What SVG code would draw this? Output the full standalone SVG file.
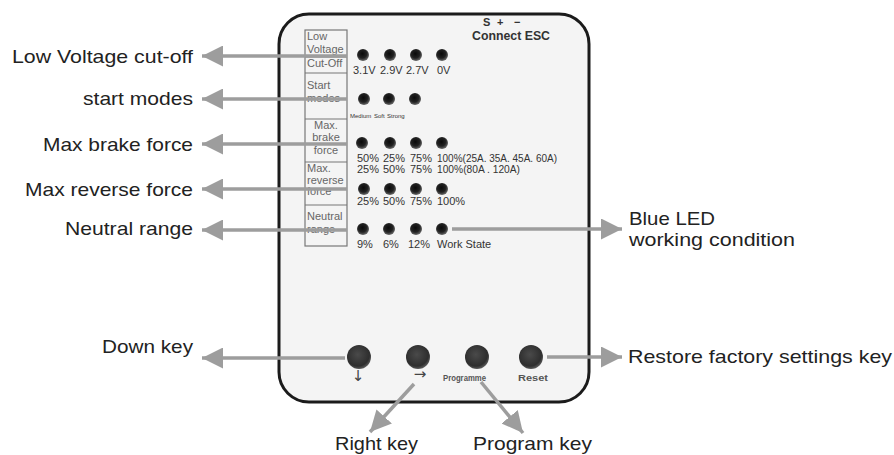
<svg xmlns="http://www.w3.org/2000/svg" width="894" height="455" viewBox="0 0 894 455">
<defs>
<marker id="ah" viewBox="0 0 20 20" refX="20" refY="10" markerWidth="21" markerHeight="21" markerUnits="userSpaceOnUse" orient="auto">
<path d="M0,0 L20,10 L0,20 z" fill="#9d9d9d"/>
</marker>
<radialGradient id="led" cx="0.45" cy="0.4" r="0.6">
<stop offset="0" stop-color="#0a0a0a"/>
<stop offset="0.6" stop-color="#222"/>
<stop offset="1" stop-color="#6a6a6a"/>
</radialGradient>
<radialGradient id="btn" cx="0.45" cy="0.4" r="0.6">
<stop offset="0" stop-color="#4a4a4a"/>
<stop offset="0.8" stop-color="#2e2e2e"/>
<stop offset="1" stop-color="#5a5a5a"/>
</radialGradient>
<style>
.lbl{font-family:"Liberation Sans",Arial,sans-serif;font-size:19px;fill:#222}
.box{font-family:"Liberation Sans",Arial,sans-serif;font-size:11px;fill:#666}
.val{font-family:"Liberation Sans",Arial,sans-serif;font-size:11px;fill:#333}
.tiny{font-family:"Liberation Sans",Arial,sans-serif;font-size:6px;fill:#333}
.key{font-family:"Liberation Sans",Arial,sans-serif;font-size:9px;fill:#555;font-weight:bold}
.hdr{font-family:"Liberation Sans",Arial,sans-serif;font-size:12px;fill:#333;font-weight:bold}
.sym{font-family:"Liberation Sans",Arial,sans-serif;font-size:11px;fill:#333;font-weight:bold}
.arr{font-family:"DejaVu Sans",sans-serif;font-size:15px;fill:#444}
.con{stroke:#9d9d9d;stroke-width:3.5;fill:none;marker-end:url(#ah)}
.bl{stroke:#777;stroke-width:1.2;fill:none}
</style>
</defs>
<rect width="894" height="455" fill="#fff"/>
<g id="board">
<rect x="279" y="14" width="310" height="388" rx="30" ry="30" fill="#f4f4f4" stroke="#1b1b1b" stroke-width="3"/>
<text class="sym" x="483" y="26">S</text>
<text class="sym" x="497" y="26">+</text>
<text class="sym" x="514" y="26">−</text>
<text class="hdr" x="472" y="40" textLength="78" lengthAdjust="spacingAndGlyphs">Connect ESC</text>
</g>
<g id="label-boxes">
<rect class="bl" x="305" y="30" width="42" height="216"/>
<line class="bl" x1="305" y1="57" x2="347" y2="57"/>
<line class="bl" x1="305" y1="73" x2="347" y2="73"/>
<line class="bl" x1="305" y1="119" x2="347" y2="119"/>
<line class="bl" x1="305" y1="162" x2="347" y2="162"/>
<line class="bl" x1="305" y1="205" x2="347" y2="205"/>
<text class="box" x="307" y="40">Low</text>
<text class="box" x="307" y="53">Voltage</text>
<text class="box" x="307" y="67">Cut-Off</text>
<text class="box" x="307" y="89">Start</text>
<text class="box" x="307" y="102">modes</text>
<text class="box" x="326" y="129" text-anchor="middle">Max.</text>
<text class="box" x="326" y="141" text-anchor="middle">brake</text>
<text class="box" x="326" y="154" text-anchor="middle">force</text>
<text class="box" x="307" y="172">Max.</text>
<text class="box" x="307" y="184">reverse</text>
<text class="box" x="307" y="195">force</text>
<text class="box" x="307" y="220">Neutral</text>
<text class="box" x="307" y="233">range</text>
</g>
<g id="row-voltage">
<circle cx="363" cy="55" r="6" fill="url(#led)"/>
<circle cx="390" cy="55" r="6" fill="url(#led)"/>
<circle cx="416" cy="55" r="6" fill="url(#led)"/>
<circle cx="442" cy="55" r="6" fill="url(#led)"/>
<text class="val" x="353" y="74">3.1V</text>
<text class="val" x="380" y="74">2.9V</text>
<text class="val" x="406" y="74">2.7V</text>
<text class="val" x="437" y="74">0V</text>
</g>
<g id="row-start">
<circle cx="364" cy="99" r="6" fill="url(#led)"/>
<circle cx="389" cy="99" r="6" fill="url(#led)"/>
<circle cx="415" cy="99" r="6" fill="url(#led)"/>
<text class="tiny" x="350" y="118">Medium</text>
<text class="tiny" x="374" y="118">Soft</text>
<text class="tiny" x="387" y="118">Strong</text>
</g>
<g id="row-brake">
<circle cx="362" cy="143" r="6" fill="url(#led)"/>
<circle cx="390" cy="143" r="6" fill="url(#led)"/>
<circle cx="416" cy="143" r="6" fill="url(#led)"/>
<circle cx="442" cy="143" r="6" fill="url(#led)"/>
<text class="val" x="357" y="162">50%</text>
<text class="val" x="383" y="162">25%</text>
<text class="val" x="410" y="162">75%</text>
<text class="val" x="437" y="162" textLength="120" lengthAdjust="spacingAndGlyphs">100%(25A. 35A. 45A. 60A)</text>
<text class="val" x="357" y="173">25%</text>
<text class="val" x="383" y="173">50%</text>
<text class="val" x="410" y="173">75%</text>
<text class="val" x="437" y="173" textLength="83" lengthAdjust="spacingAndGlyphs">100%(80A . 120A)</text>
</g>
<g id="row-reverse">
<circle cx="364" cy="189" r="6" fill="url(#led)"/>
<circle cx="390" cy="189" r="6" fill="url(#led)"/>
<circle cx="416" cy="189" r="6" fill="url(#led)"/>
<circle cx="442" cy="189" r="6" fill="url(#led)"/>
<text class="val" x="357" y="205">25%</text>
<text class="val" x="383" y="205">50%</text>
<text class="val" x="410" y="205">75%</text>
<text class="val" x="437" y="205">100%</text>
</g>
<g id="row-neutral">
<circle cx="363" cy="229" r="6" fill="url(#led)"/>
<circle cx="389" cy="229" r="6" fill="url(#led)"/>
<circle cx="416" cy="229" r="6" fill="url(#led)"/>
<circle cx="442" cy="229" r="6" fill="url(#led)"/>
<text class="val" x="357" y="248">9%</text>
<text class="val" x="383" y="248">6%</text>
<text class="val" x="408" y="248">12%</text>
<text class="val" x="437" y="248">Work State</text>
</g>
<g id="keys">
<circle cx="359" cy="357" r="12" fill="url(#btn)"/>
<circle cx="418" cy="357" r="12" fill="url(#btn)"/>
<circle cx="477" cy="357" r="12" fill="url(#btn)"/>
<circle cx="531" cy="357" r="12" fill="url(#btn)"/>
<text class="arr" x="358" y="381" text-anchor="middle">↓</text>
<text class="arr" x="420" y="379" text-anchor="middle">→</text>
<text class="key" x="443" y="381" textLength="43" lengthAdjust="spacingAndGlyphs">Programme</text>
<text class="key" x="518" y="381" textLength="30" lengthAdjust="spacingAndGlyphs">Reset</text>
</g>
<g id="connectors">
<line class="con" x1="347" y1="56" x2="202" y2="56"/>
<line class="con" x1="347" y1="99" x2="202" y2="99"/>
<line class="con" x1="347" y1="144" x2="202" y2="144"/>
<line class="con" x1="347" y1="189" x2="202" y2="189"/>
<line class="con" x1="347" y1="230" x2="202" y2="230"/>
<line class="con" x1="452" y1="229" x2="622" y2="229"/>
<line class="con" x1="345" y1="358" x2="202" y2="358"/>
<line class="con" x1="547" y1="357" x2="622" y2="357"/>
<line class="con" x1="414" y1="384" x2="370" y2="432"/>
<line class="con" x1="481" y1="382" x2="523" y2="433"/>
</g>
<g id="labels">
<text class="lbl" x="12" y="63" textLength="181" lengthAdjust="spacingAndGlyphs">Low Voltage cut-off</text>
<text class="lbl" x="83" y="105" textLength="110" lengthAdjust="spacingAndGlyphs">start modes</text>
<text class="lbl" x="43" y="151" textLength="150" lengthAdjust="spacingAndGlyphs">Max brake force</text>
<text class="lbl" x="25" y="196" textLength="168" lengthAdjust="spacingAndGlyphs">Max reverse force</text>
<text class="lbl" x="65" y="235" textLength="128" lengthAdjust="spacingAndGlyphs">Neutral range</text>
<text class="lbl" x="629" y="225" textLength="86" lengthAdjust="spacingAndGlyphs">Blue LED</text>
<text class="lbl" x="629" y="246" textLength="166" lengthAdjust="spacingAndGlyphs">working condition</text>
<text class="lbl" x="102" y="353" textLength="91" lengthAdjust="spacingAndGlyphs">Down key</text>
<text class="lbl" x="628" y="363" textLength="264" lengthAdjust="spacingAndGlyphs">Restore factory settings key</text>
<text class="lbl" x="335" y="450" textLength="83" lengthAdjust="spacingAndGlyphs">Right key</text>
<text class="lbl" x="473" y="450" textLength="119" lengthAdjust="spacingAndGlyphs">Program key</text>
</g>
</svg>
